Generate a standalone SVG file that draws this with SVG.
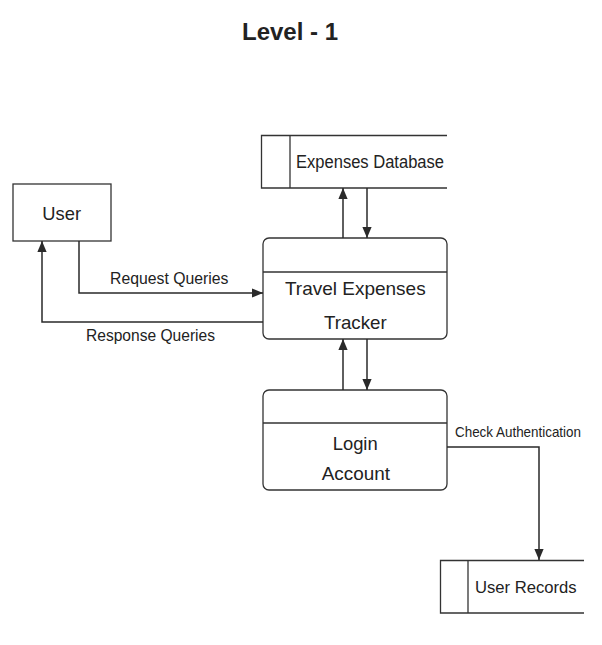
<svg xmlns="http://www.w3.org/2000/svg" width="602" height="645" viewBox="0 0 602 645">
<defs>
<marker id="ah" viewBox="0 0 10 10" refX="10" refY="5" markerWidth="11" markerHeight="11" markerUnits="userSpaceOnUse" orient="auto">
<path d="M0,0.8 L10,5 L0,9.2 z" fill="#2a2a2a"/>
</marker>
</defs>
<style>
.s{fill:#fff;stroke:#333;stroke-width:1.3}
.l{fill:none;stroke:#2a2a2a;stroke-width:1.5}
.t{font-family:"Liberation Sans",Arial,sans-serif;fill:#222}
</style>
<rect width="602" height="645" fill="#fff"/>
<text class="t" x="290" y="40" font-size="24" font-weight="bold" text-anchor="middle" textLength="96" lengthAdjust="spacingAndGlyphs">Level - 1</text>
<g id="expenses-db">
<path class="s" d="M447,135.5 L261.5,135.5 L261.5,188 L447,188"/>
<line class="s" x1="290" y1="135.5" x2="290" y2="188"/>
<text class="t" x="370" y="168" font-size="17.5" text-anchor="middle" textLength="148" lengthAdjust="spacingAndGlyphs">Expenses Database</text>
</g>
<g id="user">
<rect class="s" x="13" y="184" width="98" height="57"/>
<text class="t" x="61.7" y="220" font-size="19" text-anchor="middle" textLength="38.7" lengthAdjust="spacingAndGlyphs">User</text>
</g>
<g id="tracker">
<rect class="s" x="263" y="238" width="184" height="101" rx="6"/>
<line class="s" x1="263" y1="272" x2="447" y2="272"/>
<text class="t" x="355.3" y="295" font-size="19" text-anchor="middle" textLength="140.7" lengthAdjust="spacingAndGlyphs">Travel Expenses</text>
<text class="t" x="355.3" y="329.3" font-size="19" text-anchor="middle" textLength="62.7" lengthAdjust="spacingAndGlyphs">Tracker</text>
</g>
<g id="login">
<rect class="s" x="263" y="390" width="184" height="100" rx="6"/>
<line class="s" x1="263" y1="423" x2="447" y2="423"/>
<text class="t" x="355.2" y="450" font-size="18.5" text-anchor="middle" textLength="45" lengthAdjust="spacingAndGlyphs">Login</text>
<text class="t" x="355.8" y="480" font-size="18.5" text-anchor="middle" textLength="68.3" lengthAdjust="spacingAndGlyphs">Account</text>
</g>
<g id="user-records">
<path class="s" d="M584,560.5 L440.5,560.5 L440.5,613 L584,613"/>
<line class="s" x1="468" y1="560.5" x2="468" y2="613"/>
<text class="t" x="525.8" y="593.3" font-size="17" text-anchor="middle" textLength="101.7" lengthAdjust="spacingAndGlyphs">User Records</text>
</g>
<g id="connectors">
<line class="l" x1="343" y1="238" x2="343" y2="188" marker-end="url(#ah)"/>
<line class="l" x1="367" y1="188" x2="367" y2="238" marker-end="url(#ah)"/>
<line class="l" x1="343" y1="390" x2="343" y2="339" marker-end="url(#ah)"/>
<line class="l" x1="367" y1="339" x2="367" y2="390" marker-end="url(#ah)"/>
<polyline class="l" points="79,241 79,293 263,293" marker-end="url(#ah)"/>
<polyline class="l" points="263,322 42,322 42,241" marker-end="url(#ah)"/>
<polyline class="l" points="447,447 539,447 539,560" marker-end="url(#ah)"/>
<text class="t" x="169.2" y="284.3" font-size="16" text-anchor="middle" textLength="118.3" lengthAdjust="spacingAndGlyphs">Request Queries</text>
<text class="t" x="150.5" y="340.7" font-size="16" text-anchor="middle" textLength="129" lengthAdjust="spacingAndGlyphs">Response Queries</text>
<text class="t" x="455" y="436.7" font-size="15" textLength="126" lengthAdjust="spacingAndGlyphs">Check Authentication</text>
</g>
</svg>
